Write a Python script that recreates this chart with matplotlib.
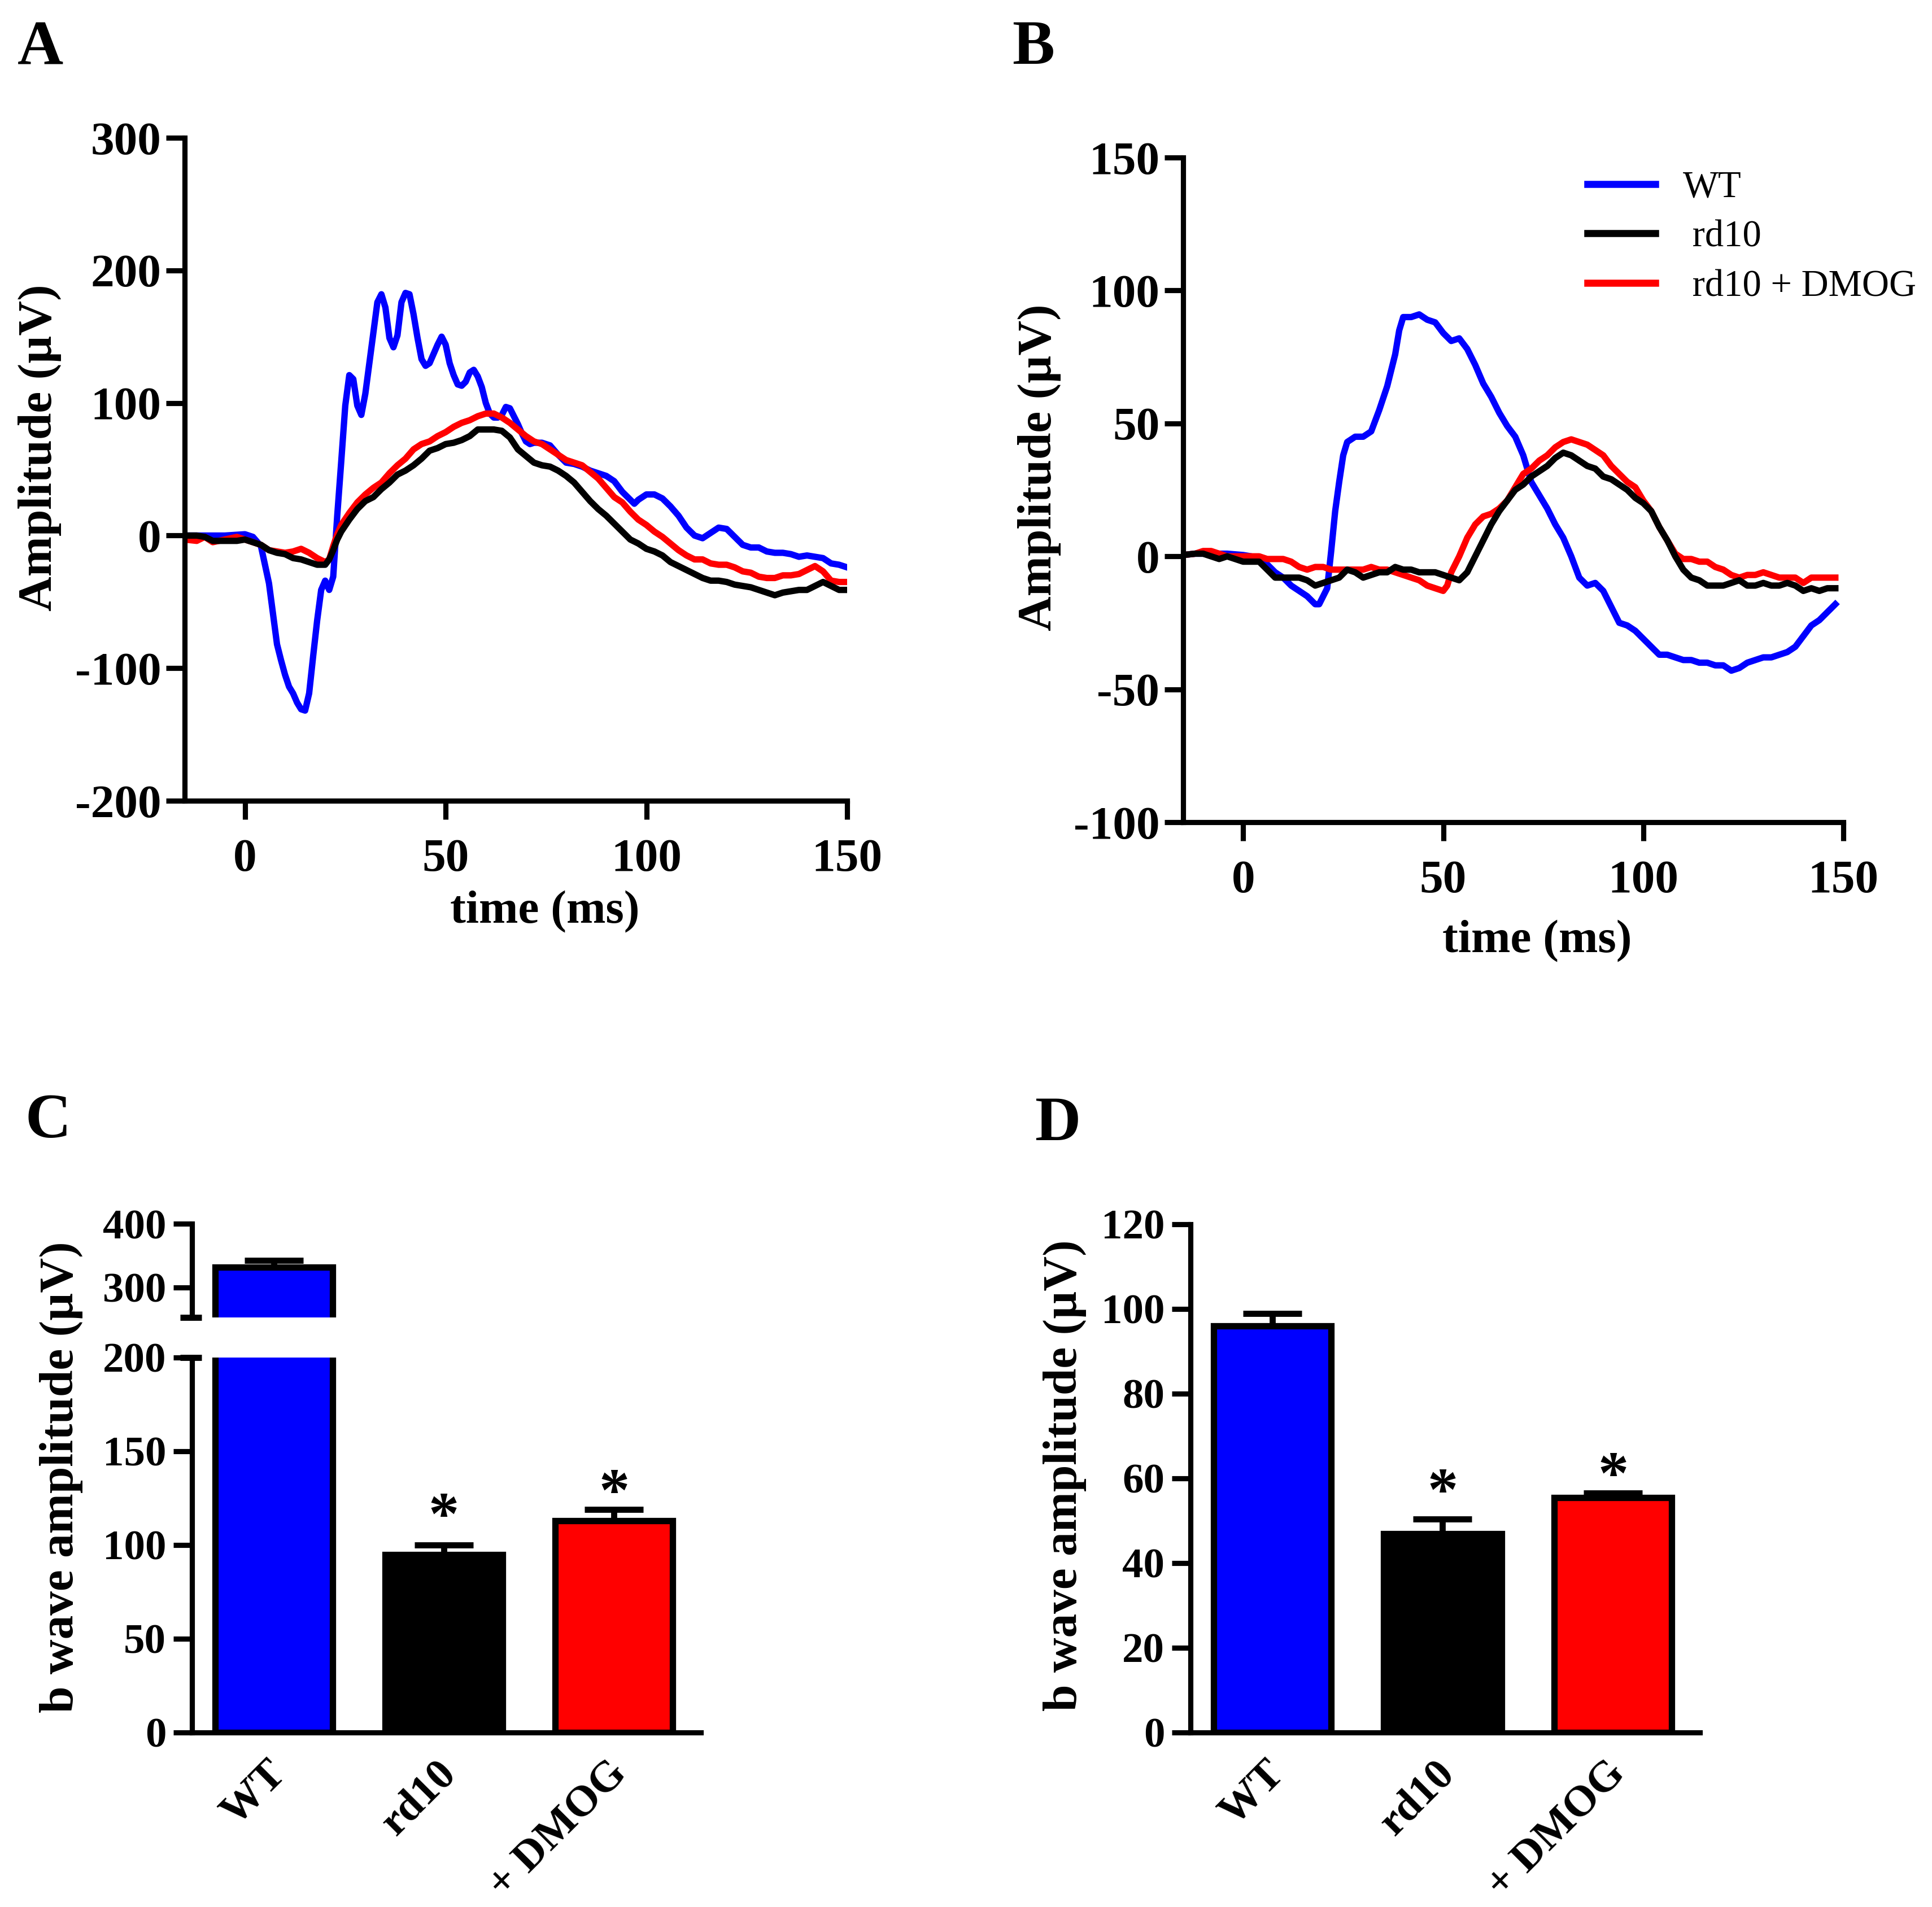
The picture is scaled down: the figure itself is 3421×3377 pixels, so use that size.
import matplotlib
matplotlib.use("Agg")
import matplotlib.pyplot as plt
from matplotlib.transforms import ScaledTranslation

plt.rcParams["font.family"] = ["Liberation Serif", "DejaVu Serif"]
plt.rcParams["font.weight"] = "bold"
plt.rcParams["axes.linewidth"] = 2.2
plt.rcParams["axes.unicode_minus"] = False

BLUE = "#0000ff"
RED = "#ff0000"
BLACK = "#000000"

# ---- panel A: ERG traces, time (ms) / amplitude (uV)
wt_a_t = [-15, -10, -5, 0, 2, 4, 5, 6, 7, 8, 9, 10, 11, 12, 13, 14, 15, 16, 17, 18, 19,
          20, 21, 22, 23, 24, 25, 26, 27, 28, 29, 30, 31, 32, 33, 34, 35, 36, 37, 38, 39,
          40, 41, 42, 43, 44, 45, 46, 47, 48, 49, 50, 51, 52, 53, 54, 55, 56, 57, 58, 59,
          60, 61, 62, 63, 64, 65, 66, 67, 68, 69, 70, 71, 72, 74, 76, 78, 80, 82, 84, 86,
          88, 90, 92, 94, 96, 97, 98, 100, 102, 104, 106, 108, 110, 112, 114, 116, 118,
          120, 122, 124, 126, 128, 130, 132, 134, 136, 138, 140, 142, 144, 146, 148, 150]
wt_a = [0, 0, 0, 1, -1, -8, -22, -36, -59, -82, -94, -105, -114, -119, -126, -131, -132,
        -119, -91, -64, -41, -34, -41, -31, 15, 56, 98, 121, 118, 98, 91, 107, 130, 153,
        176, 182, 172, 149, 142, 151, 176, 183, 182, 167, 149, 133, 128, 130, 137, 144,
        150, 144, 130, 121, 114, 113, 116, 123, 125, 120, 112, 100, 92, 89, 89, 91, 97,
        96, 90, 84, 77, 71, 69, 70, 70, 68, 61, 55, 54, 52, 49, 47, 45, 41, 33, 27, 24,
        27, 31, 31, 28, 22, 15, 6, 0, -2, 2, 6, 5, -1, -7, -9, -9, -12, -13, -13, -14,
        -16, -15, -16, -17, -21, -22, -24]

rd_a_t = [-15, -12, -10, -8, -5, -2, 0, 2, 4, 6, 8, 10, 12, 14, 16, 18, 20, 21, 22, 23,
          24, 26, 28, 30, 32, 34, 36, 38, 40, 42, 44, 46, 48, 50, 52, 54, 56, 58, 60, 62,
          64, 66, 68, 70, 72, 74, 76, 78, 80, 82, 84, 86, 88, 90, 92, 94, 96, 98, 100,
          102, 104, 106, 108, 110, 112, 114, 116, 118, 120, 122, 124, 126, 128, 130, 132,
          134, 136, 138, 140, 142, 144, 146, 148, 150]
rd10_a = [0, 0, -1, -4, -4, -4, -3, -5, -7, -11, -13, -14, -17, -18, -20, -22, -22, -18,
          -11, -3, 3, 12, 20, 26, 29, 35, 40, 46, 49, 53, 58, 64, 66, 69, 70, 72, 75, 80,
          80, 80, 79, 74, 65, 60, 55, 53, 52, 49, 45, 40, 33, 26, 20, 15, 9, 3, -3, -6,
          -10, -12, -15, -20, -23, -26, -29, -32, -34, -34, -35, -37, -38, -39, -41, -43,
          -45, -43, -42, -41, -41, -38, -35, -38, -41, -41]
dmog_a = [-3, -4, -1, -5, -3, -1, -3, -5, -7, -11, -12, -13, -12, -10, -13, -17, -20, -18,
          -8, 1, 8, 17, 25, 31, 36, 40, 47, 53, 58, 65, 69, 71, 75, 78, 82, 85, 87, 90,
          92, 92, 89, 85, 80, 75, 71, 69, 65, 61, 57, 55, 53, 48, 43, 36, 29, 25, 18, 12,
          8, 3, -1, -6, -11, -15, -18, -18, -21, -22, -22, -24, -27, -28, -31, -32, -32,
          -30, -30, -29, -26, -23, -27, -34, -35, -35]

# ---- panel B: ERG traces
wt_b_t = [-15, -12, -8, -4, 0, 2, 4, 6, 8, 10, 12, 14, 16, 18, 19, 20, 21, 22, 23, 24,
          25, 26, 28, 30, 32, 34, 36, 38, 39, 40, 42, 44, 46, 48, 50, 52, 54, 56, 58, 60,
          62, 64, 66, 68, 70, 72, 74, 76, 78, 80, 82, 84, 86, 88, 90, 92, 94, 96, 98, 100,
          102, 104, 106, 108, 110, 112, 114, 116, 118, 120, 122, 124, 126, 128, 130, 132,
          134, 136, 138, 140, 142, 144, 146, 148]
wt_b = [0.5, 1, 1, 1, 0.5, 0, -1, -3, -6, -8, -11, -13, -15, -18, -18, -15, -12, 2, 17,
        28, 38, 43, 45, 45, 47, 55, 64, 76, 85, 90, 90, 91, 89, 88, 84, 81, 82, 78, 72,
        65, 60, 54, 49, 45, 38, 28, 23, 18, 12, 7, 0, -8, -11, -10, -13, -19, -25, -26,
        -28, -31, -34, -37, -37, -38, -39, -39, -40, -40, -41, -41, -43, -42, -40, -39,
        -38, -38, -37, -36, -34, -30, -26, -24, -21, -18]

rd_b_t = [-15, -12, -10, -8, -6, -4, -2, 0, 2, 4, 6, 8, 10, 12, 14, 16, 18, 20, 22, 24,
          26, 28, 30, 32, 34, 36, 38, 40, 42, 44, 46, 48, 50, 51, 52, 54, 56, 58, 60, 62,
          64, 66, 68, 70, 72, 74, 76, 78, 80, 82, 84, 86, 88, 90, 92, 94, 96, 98, 100,
          102, 104, 106, 108, 110, 112, 114, 116, 118, 120, 122, 124, 126, 128, 130, 132,
          134, 136, 138, 140, 142, 144, 146, 148]
rd10_b = [0.5, 1, 1, 0, -1, 0, -1, -2, -2, -2, -5, -8, -8, -8, -8, -9, -11, -10, -9, -8,
          -5, -6, -8, -7, -6, -6, -4, -5, -5, -6, -6, -6, -7, -7.5, -8, -9, -6, 0, 6, 12,
          17, 21, 25, 27, 30, 32, 34, 37, 39, 38, 36, 34, 33, 30, 29, 27, 25, 22, 20, 17,
          11, 6, 0, -5, -8, -9, -11, -11, -11, -10, -9, -11, -11, -10, -11, -11, -10, -11,
          -13, -12, -13, -12, -12]
dmog_b = [0.5, 1, 2, 2, 1, 0, 0, 0, 0, 0, -1, -1, -1, -2, -4, -5, -4, -4, -5, -5, -5,
          -5, -5, -4, -5, -5, -6, -7, -8, -9, -11, -12, -13, -11, -6, 0, 7, 12, 15, 16,
          18, 21, 26, 31, 33, 36, 38, 41, 43, 44, 43, 42, 40, 38, 34, 31, 28, 26, 21, 17,
          11, 6, 1, -1, -1, -2, -2, -4, -5, -7, -8, -7, -7, -6, -7, -8, -8, -8, -10, -8,
          -8, -8, -8]

# ---- panels C and D: b wave amplitude (uV), mean and SEM
groups = ["WT", "rd10", "+ DMOG"]
bar_colors = [BLUE, BLACK, RED]
c_mean = [332, 95, 113]
c_sem = [10, 5, 6]
d_mean = [96, 47, 55.5]
d_sem = [3, 3.4, 1]

W, H = 3421, 3377
fig = plt.figure(figsize=(W / 300, H / 300), dpi=300)


def px_axes(x0, y0, x1, y1):
    # rectangle given in pixels from the top-left corner
    return fig.add_axes([x0 / W, 1 - y1 / H, (x1 - x0) / W, (y1 - y0) / H])


def style(ax, fs=20, ypad=2):
    for s in ["top", "right"]:
        ax.spines[s].set_visible(False)
    ax.tick_params(width=2.2, length=8, labelsize=fs)
    ax.tick_params(axis="y", pad=ypad)
    for lab in ax.get_xticklabels() + ax.get_yticklabels():
        lab.set_fontweight("bold")


def trace_panel(ax, traces, ylim, yticks):
    lines = [ax.plot(t, v, color=c, lw=2.7)[0] for t, v, c in traces]
    ax.set_xlim(-15, 150)
    ax.set_ylim(*ylim)
    ax.set_xticks([0, 50, 100, 150])
    ax.set_yticks(yticks)
    style(ax)
    ax.tick_params(axis="x", pad=8)
    ax.set_xlabel("time (ms)", fontsize=20, fontweight="bold")
    ax.set_ylabel("Amplitude (\u00b5V)", fontsize=20.5, fontweight="bold")
    return lines


ax_a = px_axes(327, 244, 1500, 1418)
trace_panel(ax_a, [(wt_a_t, wt_a, BLUE), (rd_a_t, dmog_a, RED), (rd_a_t, rd10_a, BLACK)],
            (-200, 300), range(-200, 301, 100))
ax_a.xaxis.set_label_coords(0.544, -0.136)
ax_a.yaxis.set_label_coords(-0.186, 0.533)

ax_b = px_axes(2095, 279, 3264, 1456)
lines = trace_panel(ax_b, [(wt_b_t, wt_b, BLUE), (rd_b_t, dmog_b, RED),
                           (rd_b_t, rd10_b, BLACK)], (-100, 150), range(-100, 151, 50))
ax_b.xaxis.set_label_coords(0.536, -0.147)
ax_b.yaxis.set_label_coords(-0.185, 0.534)
leg = fig.legend([lines[0], lines[2], lines[1]], ["WT", " rd10", " rd10 + DMOG"],
                 loc="upper left", bbox_to_anchor=(2811 / W, 1 - 302 / H), frameon=False,
                 prop={"family": "Liberation Serif", "weight": "normal", "size": 16},
                 handlelength=1.8, handletextpad=0.74, labelspacing=0.4, borderpad=0,
                 borderaxespad=0)
for h in leg.legend_handles:
    h.set_linewidth(3)


def bar_panel(ax, mean, sem, ylim, yticks):
    ax.bar(range(3), mean, width=0.69, color=bar_colors, edgecolor=BLACK, linewidth=2.7,
           zorder=2)
    for i, (m, e) in enumerate(zip(mean, sem)):
        ax.errorbar(i, m, yerr=[[0], [e]], color=BLACK, capsize=12.5, elinewidth=2.6,
                    capthick=2.6, zorder=1)
    ax.set_xlim(-0.48, 2.51)
    ax.set_ylim(*ylim)
    ax.set_yticks(yticks)
    style(ax, fs=18, ypad=3)


def cat_labels(ax):
    ax.set_xticks(range(3))
    ax.set_xticklabels(groups, rotation=45, ha="right", va="top", rotation_mode="anchor",
                       fontsize=18.5, fontweight="bold")
    ax.tick_params(axis="x", length=0, pad=9)
    shift = ScaledTranslation(-3.2 / 72, 0, fig.dpi_scale_trans)
    for lab in ax.get_xticklabels():
        lab.set_transform(lab.get_transform() + shift)


def stars(ax, mean, sem, gaps):
    for i, g in zip([1, 2], gaps):
        ax.annotate("*", (i, mean[i] + sem[i]), xytext=(0, g), textcoords="offset points",
                    ha="center", va="center", fontsize=26, fontweight="bold")


# panel C: broken axis
ax_cl = px_axes(340, 2404, 1241, 3068)
bar_panel(ax_cl, c_mean, c_sem, (0, 200), range(0, 201, 50))
cat_labels(ax_cl)
stars(ax_cl, c_mean, c_sem, (10.8, 5.7))
ax_ct = px_axes(340, 2167, 1241, 2333)
bar_panel(ax_ct, c_mean, c_sem, (253, 400), [300, 400])
ax_ct.spines["bottom"].set_visible(False)
ax_ct.set_xticks([])
for a, yy in [(ax_ct, 0), (ax_cl, 1)]:
    a.plot([-0.023, 0.019], [yy, yy], color=BLACK, lw=2.6, transform=a.transAxes,
           clip_on=False, solid_capstyle="butt")
fig.text(108 / W, 1 - 2616 / H, "b wave amplitude (\u00b5V)", rotation=90, ha="center",
         va="center", fontsize=20.5, fontweight="bold")

# panel D
ax_d = px_axes(2108, 2168, 3010, 3068)
bar_panel(ax_d, d_mean, d_sem, (0, 120), range(0, 121, 20))
cat_labels(ax_d)
stars(ax_d, d_mean, d_sem, (10, 6))
fig.text(1885 / W, 1 - 2613 / H, "b wave amplitude (\u00b5V)", rotation=90, ha="center",
         va="center", fontsize=20.5, fontweight="bold")

for lab, x, y in [("A", 71, 87), ("B", 1830, 86), ("C", 85, 1987), ("D", 1873, 1992)]:
    fig.text(x / W, 1 - y / H, lab, ha="center", va="center", fontsize=27,
             fontweight="bold")

fig.savefig("out.png", dpi=300, facecolor="white")
